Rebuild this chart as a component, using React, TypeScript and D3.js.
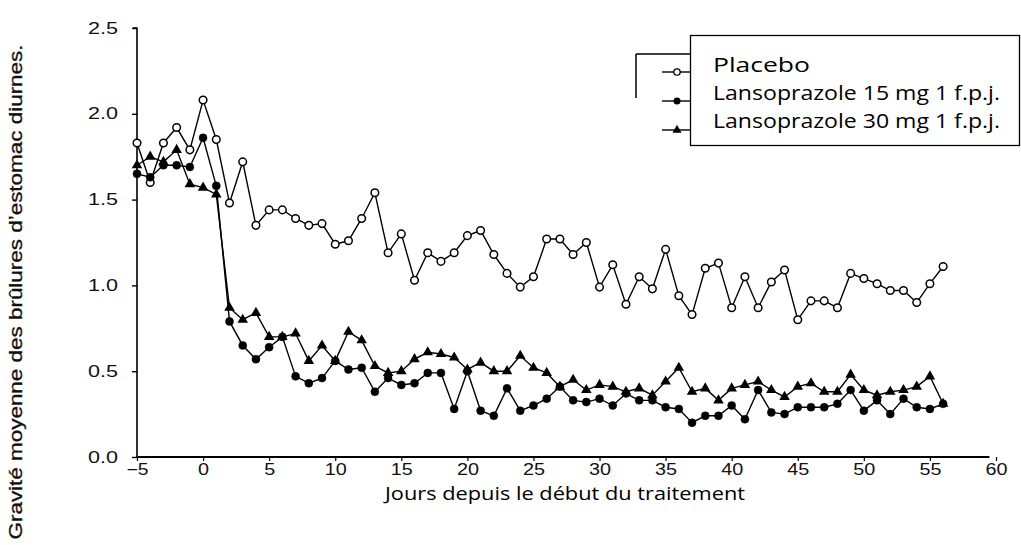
import { useEffect, useRef } from "react"
import * as d3 from "d3"

// jours -5 .. 56
const days = d3.range(-5, 57)

const placebo = [
  1.83, 1.60, 1.83, 1.92, 1.79, 2.08, 1.85, 1.48, 1.72, 1.35,
  1.44, 1.44, 1.39, 1.35, 1.36, 1.24, 1.26, 1.39, 1.54, 1.19,
  1.30, 1.03, 1.19, 1.14, 1.19, 1.29, 1.32, 1.18, 1.07, 0.99,
  1.05, 1.27, 1.27, 1.18, 1.25, 0.99, 1.12, 0.89, 1.05, 0.98,
  1.21, 0.94, 0.83, 1.10, 1.13, 0.87, 1.05, 0.87, 1.02, 1.09,
  0.80, 0.91, 0.91, 0.87, 1.07, 1.04, 1.01, 0.97, 0.97, 0.90,
  1.01, 1.11,
]

const lanso15 = [
  1.65, 1.63, 1.70, 1.70, 1.69, 1.86, 1.58, 0.79, 0.65, 0.57,
  0.64, 0.70, 0.47, 0.43, 0.46, 0.56, 0.51, 0.52, 0.38, 0.46,
  0.42, 0.43, 0.49, 0.49, 0.28, 0.50, 0.27, 0.24, 0.40, 0.27,
  0.30, 0.34, 0.41, 0.33, 0.32, 0.34, 0.30, 0.37, 0.33, 0.33,
  0.29, 0.28, 0.20, 0.24, 0.24, 0.30, 0.22, 0.39, 0.26, 0.25,
  0.29, 0.29, 0.29, 0.31, 0.39, 0.27, 0.33, 0.25, 0.34, 0.29,
  0.28, 0.31,
]

const lanso30 = [
  1.70, 1.75, 1.72, 1.79, 1.59, 1.57, 1.53, 0.87, 0.80, 0.84,
  0.70, 0.70, 0.72, 0.56, 0.65, 0.56, 0.73, 0.68, 0.53, 0.49,
  0.50, 0.57, 0.61, 0.60, 0.58, 0.51, 0.55, 0.50, 0.50, 0.59,
  0.52, 0.49, 0.41, 0.45, 0.39, 0.42, 0.41, 0.38, 0.40, 0.36,
  0.44, 0.52, 0.38, 0.40, 0.33, 0.40, 0.42, 0.44, 0.39, 0.35,
  0.41, 0.43, 0.38, 0.38, 0.48, 0.39, 0.36, 0.38, 0.39, 0.41,
  0.47, 0.31,
]

const legendLabels = ["Placebo", "Lansoprazole 15 mg 1 f.p.j.", "Lansoprazole 30 mg 1 f.p.j."]
const xTicks = d3.range(-5, 61, 5)
const yTicks = [0, 0.5, 1.0, 1.5, 2.0, 2.5]

const W = 1021
const H = 545

export default function App() {
  const svgRef = useRef<SVGSVGElement>(null)

  useEffect(() => {
    if (!svgRef.current) return
    const svg = d3.select(svgRef.current)
    svg.selectAll("*").remove()

    const x = d3.scaleLinear().domain([-5, 60]).range([137, 996])
    const y = d3.scaleLinear().domain([0, 2.5]).range([457, 28])

    svg.append("rect").attr("width", W).attr("height", H).attr("fill", "white")

    // axes
    const yAxis = svg.append("g")
      .attr("transform", `translate(${x(-5)},0)`)
      .call(d3.axisLeft(y).tickValues(yTicks).tickFormat(d3.format(".1f")).tickSize(5).tickPadding(14))
    yAxis.select(".domain").attr("stroke-width", 1.6).attr("d", `M-4,${y(2.5)}H0V${y(0)}`)
    yAxis.selectAll(".tick line").attr("stroke-width", 1.4)
    yAxis.selectAll(".tick text")
      .attr("font-family", "Liberation Sans, Arial, sans-serif")
      .attr("font-size", 16)
      .attr("textLength", 30)
      .attr("lengthAdjust", "spacingAndGlyphs")
      .attr("fill", "#111")

    const xAxis = svg.append("g")
      .attr("transform", `translate(0,${y(0)})`)
      .call(d3.axisBottom(x).tickValues(xTicks).tickFormat(d3.format("d")).tickSize(4).tickPadding(3))
    xAxis.select(".domain").attr("stroke-width", 2).attr("d", `M${x(-5)},0H${x(59.5)}`)
    xAxis.selectAll(".tick line").attr("stroke-width", 1.2)
    xAxis.selectAll<SVGTextElement, number>(".tick text")
      .attr("font-family", "Liberation Sans, Arial, sans-serif")
      .attr("font-size", 16)
      .attr("textLength", d => String(d).length * 11)
      .attr("lengthAdjust", "spacingAndGlyphs")
      .attr("fill", "#111")

    // series
    const line = d3.line<number>()
      .x((_, i) => x(days[i]))
      .y(d => y(d))

    const series = [
      { values: placebo, shape: "open" },
      { values: lanso15, shape: "dot" },
      { values: lanso30, shape: "tri" },
    ]

    series.forEach(s => {
      svg.append("path")
        .datum(s.values)
        .attr("d", line)
        .attr("fill", "none")
        .attr("stroke", "#000")
        .attr("stroke-width", 1.4)
    })

    const tri = d3.symbol().type(d3.symbolTriangle).size(48)

    const drawMarkers = (s: { values: number[], shape: string }) => {
      const g = svg.append("g")
      if (s.shape === "tri") {
        g.selectAll("path").data(s.values).enter().append("path")
          .attr("d", tri)
          .attr("transform", (d, i) => `translate(${x(days[i])},${y(d)})`)
          .attr("fill", "#000")
      } else {
        g.selectAll("circle").data(s.values).enter().append("circle")
          .attr("cx", (_, i) => x(days[i]))
          .attr("cy", d => y(d))
          .attr("r", s.shape === "open" ? 3.8 : 4)
          .attr("fill", s.shape === "open" ? "#fff" : "#000")
          .attr("stroke", "#000")
          .attr("stroke-width", s.shape === "open" ? 1.5 : 0.5)
      }
    }
    series.forEach(drawMarkers)

    // remnants of the scanned legend on the left of the box
    const lg = svg.append("g")
    lg.append("path").attr("d", "M636,54H690M636,54V98").attr("stroke", "#000").attr("stroke-width", 1.5).attr("fill", "none")
    const legendY = [72, 101, 130]
    legendY.forEach((ly, i) => {
      lg.append("line").attr("x1", 662).attr("x2", 690).attr("y1", ly).attr("y2", ly)
        .attr("stroke", "#000").attr("stroke-width", 1.4)
      if (i === 0) {
        lg.append("circle").attr("cx", 677).attr("cy", ly).attr("r", 3.2)
          .attr("fill", "#fff").attr("stroke", "#000").attr("stroke-width", 1.3)
      } else if (i === 1) {
        lg.append("circle").attr("cx", 677).attr("cy", ly).attr("r", 3.5).attr("fill", "#000")
      } else {
        lg.append("path").attr("d", d3.symbol().type(d3.symbolTriangle).size(36))
          .attr("transform", `translate(677,${ly})`).attr("fill", "#000")
      }
    })

    // legend box
    svg.append("rect")
      .attr("x", 690.5).attr("y", 35.5).attr("width", 329).attr("height", 110)
      .attr("fill", "#fff").attr("stroke", "#000").attr("stroke-width", 1.3)

    const legendLen = [97, 287, 287]
    legendLabels.forEach((t, i) => {
      svg.append("text")
        .attr("x", 713).attr("y", 72 + i * 28)
        .attr("font-family", "Open Sans, Noto Sans, sans-serif")
        .attr("font-size", 20)
        .attr("textLength", legendLen[i])
        .attr("lengthAdjust", "spacingAndGlyphs")
        .attr("fill", "#000")
        .text(t)
    })

    // titles
    svg.append("text")
      .attr("x", 565).attr("y", 500)
      .attr("text-anchor", "middle")
      .attr("font-family", "Open Sans, Noto Sans, sans-serif")
      .attr("font-size", 18)
      .attr("textLength", 360)
      .attr("lengthAdjust", "spacingAndGlyphs")
      .attr("fill", "#000")
      .text("Jours depuis le début du traitement")

    svg.append("text")
      .attr("transform", "translate(22,292) rotate(-90)")
      .attr("text-anchor", "middle")
      .attr("font-family", "Liberation Sans, Arial, sans-serif")
      .attr("font-size", 19)
      .attr("textLength", 495)
      .attr("lengthAdjust", "spacingAndGlyphs")
      .attr("fill", "#111")
      .attr("stroke", "#111")
      .attr("stroke-width", 0.3)
      .text("Gravité moyenne des brûlures d’estomac diurnes.")
  }, [])

  return (
    <div style={{ position: "fixed", left: 0, top: 0, width: W, height: H, background: "#fff" }}>
      <svg ref={svgRef} width={W} height={H} viewBox={`0 0 ${W} ${H}`} xmlns="http://www.w3.org/2000/svg"></svg>
    </div>
  )
}
